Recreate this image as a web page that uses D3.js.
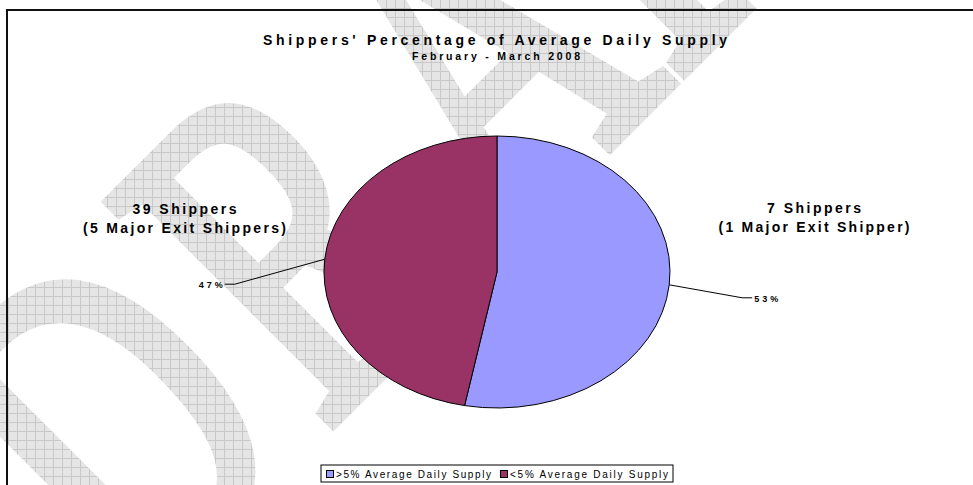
<!DOCTYPE html>
<html>
<head>
<meta charset="utf-8">
<script src="https://cdn.jsdelivr.net/npm/d3@7/dist/d3.min.js"></script>
<style>
  body { margin: 0; background: #fff; }
  svg { display: block; font-family: "Liberation Sans", Arial, sans-serif; }
</style>
</head>
<body>
<div id="chart"></div>
<script>
var width = 973, height = 485;

// data
var categories = [">5% Average Daily Supply", "<5% Average Daily Supply"];
var values = [53, 47];
var colors = ["#9999ff", "#993366"];
var shipperLines = [["7 Shippers", "(1 Major Exit Shipper)"], ["39 Shippers", "(5 Major Exit Shippers)"]];
var title = "Shippers' Percentage of Average Daily Supply";
var subtitle = "February - March 2008";
var watermark = "DRAFT";
var letterShift = [-80, 39, 55, 0, 0]; // spacing of the watermark letters

var svg = d3.select("#chart").append("svg")
  .attr("width", width)
  .attr("height", height);

var defs = svg.append("defs");

// grey grid fill of the watermark
var pat = defs.append("pattern")
  .attr("id", "grid")
  .attr("patternUnits", "userSpaceOnUse")
  .attr("width", 9).attr("height", 9);
pat.append("rect").attr("width", 9).attr("height", 9).attr("fill", "#e5e5e5");
pat.append("path").attr("d", "M8.5,0V9M0,8.5H9").attr("stroke", "#c8c8c8").attr("stroke-width", 1).attr("fill", "none");

var mask = defs.append("mask").attr("id", "wm")
  .attr("maskUnits", "userSpaceOnUse")
  .attr("x", 0).attr("y", 0).attr("width", width).attr("height", height);
mask.append("g")
  .attr("transform", "translate(345,410) rotate(-45)")
  .append("text")
  .attr("transform", "scale(0.69,1)")
  .attr("x", -348).attr("y", 0)
  .attr("font-family", "'Liberation Serif', 'Times New Roman', serif")
  .attr("font-size", 478)
  .attr("fill", "#fff")
  .attr("stroke", "#fff")
  .attr("stroke-width", 14)
  .selectAll("tspan")
  .data(watermark.split(""))
  .enter()
  .append("tspan")
  .attr("dx", function(d, i){ return letterShift[i]; })
  .text(function(d){ return d; });

svg.append("rect")
  .attr("width", width).attr("height", height)
  .attr("fill", "url(#grid)")
  .attr("mask", "url(#wm)");

// frame
svg.append("path")
  .attr("d", "M7," + height + "V10H" + width)
  .attr("fill", "none")
  .attr("stroke", "#111")
  .attr("stroke-width", 2);

// titles
svg.append("text")
  .attr("x", 495).attr("y", 45)
  .attr("text-anchor", "middle")
  .attr("font-size", 14).attr("font-weight", "bold")
  .attr("textLength", 464).attr("lengthAdjust", "spacing")
  .text(title);
svg.append("text")
  .attr("x", 496).attr("y", 60)
  .attr("text-anchor", "middle")
  .attr("font-size", 10.5).attr("font-weight", "bold")
  .attr("textLength", 168).attr("lengthAdjust", "spacing")
  .text(subtitle);

// pie, drawn as a circle and stretched into the ellipse of the picture
var cx = 497, cy = 272, rx = 173, ry = 136;

var pie = d3.pie().sort(null).value(function(d){ return d; });
var arcs = pie(values);
var arc = d3.arc().innerRadius(0).outerRadius(ry);

var pieG = svg.append("g")
  .attr("transform", "translate(" + cx + "," + cy + ") scale(" + (rx / ry) + ",1)");

pieG.selectAll("path.slice")
  .data(arcs)
  .enter()
  .append("path")
  .attr("class", "slice")
  .attr("d", arc)
  .attr("fill", function(d, i){ return colors[i]; })
  .attr("stroke", "#000")
  .attr("stroke-width", 1)
  .attr("vector-effect", "non-scaling-stroke");

// leader lines + percentage labels
var leaderOffsets = [[73, 13], [-90, 25]];
arcs.forEach(function(d, i){
  var a = (d.startAngle + d.endAngle) / 2;
  var x0 = cx + rx * Math.sin(a), y0 = cy - ry * Math.cos(a);
  var x1 = x0 + leaderOffsets[i][0], y1 = y0 + leaderOffsets[i][1];
  var side = x1 > cx ? 1 : -1;
  var x2 = x1 + side * 10;
  svg.append("path")
    .attr("d", "M" + x0 + "," + y0 + "L" + x1 + "," + y1 + "L" + x2 + "," + y1)
    .attr("fill", "none")
    .attr("stroke", "#000")
    .attr("stroke-width", 1);
  var pct = Math.round(d.value / d3.sum(values) * 100) + "%";
  svg.append("text")
    .attr("x", x2 + side * 2)
    .attr("y", y1 + 4)
    .attr("text-anchor", side > 0 ? "start" : "end")
    .attr("font-size", 9).attr("font-weight", "bold")
    .attr("textLength", 24).attr("lengthAdjust", "spacing")
    .text(pct);
});

// shipper counts beside the pie
var labelPos = [{x: 814, y: 213, w: [94, 191]}, {x: 184.5, y: 214, w: [104, 203]}];
shipperLines.forEach(function(lines, i){
  lines.forEach(function(t, j){
    svg.append("text")
      .attr("x", labelPos[i].x)
      .attr("y", labelPos[i].y + j * 19)
      .attr("text-anchor", "middle")
      .attr("font-size", 14).attr("font-weight", "bold")
      .attr("textLength", labelPos[i].w[j]).attr("lengthAdjust", "spacing")
      .text(t);
  });
});

// legend
var legend = svg.append("g").attr("transform", "translate(321,465)");
legend.append("rect")
  .attr("width", 352).attr("height", 17)
  .attr("fill", "#fff")
  .attr("stroke", "#000")
  .attr("stroke-width", 1);
var legendX = d3.scaleOrdinal().domain(categories).range([5, 179]);
var item = legend.selectAll("g.item")
  .data(categories)
  .enter()
  .append("g")
  .attr("class", "item")
  .attr("transform", function(d){ return "translate(" + legendX(d) + ",0)"; });
item.append("rect")
  .attr("x", 0.5).attr("y", 5.5)
  .attr("width", 7).attr("height", 7)
  .attr("fill", function(d, i){ return colors[i]; })
  .attr("stroke", "#000")
  .attr("stroke-width", 1);
item.append("text")
  .attr("x", 10).attr("y", 13)
  .attr("font-size", 10)
  .attr("textLength", function(d, i){ return i === 0 ? 155 : 158; })
  .attr("lengthAdjust", "spacing")
  .text(function(d){ return d; });
</script>
</body>
</html>
